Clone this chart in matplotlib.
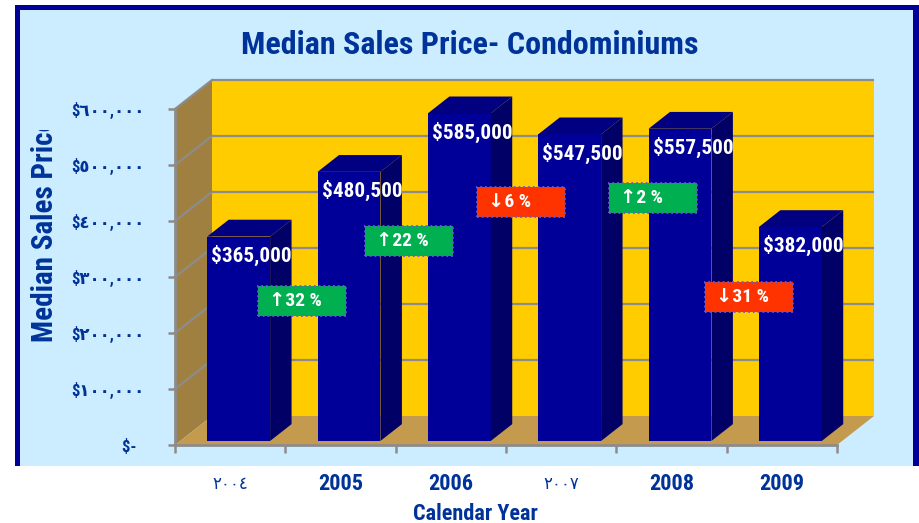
import numpy as np
import matplotlib
matplotlib.use("Agg")
import matplotlib.pyplot as plt
from matplotlib.patches import Rectangle, Polygon
from matplotlib import font_manager as fm
from matplotlib.transforms import Bbox, TransformedBbox, ScaledTranslation

# ---------------- data ----------------
years = ['٢٠٠٤', '2005', '2006', '٢٠٠٧', '2008', '2009']
prices = [365000, 480500, 585000, 547500, 557500, 382000]
price_labels = ['$365,000', '$480,500', '$585,000', '$547,500', '$557,500', '$382,000']
changes = [32, 22, -6, 2, -31]
ytick_values = [0, 100000, 200000, 300000, 400000, 500000, 600000]
ytick_labels = ['$-  ', '$١٠٠,٠٠٠', '$٢٠٠,٠٠٠', '$٣٠٠,٠٠٠', '$٤٠٠,٠٠٠',
                '$٥٠٠,٠٠٠', '$٦٠٠,٠٠٠']
title = 'Median Sales Price- Condominiums'
ylabel = 'Median Sales Price'
xlabel = 'Calendar Year'

# ---------------- fonts ----------------
ttf = fm.fontManager.ttflist


def wnum(w):
    if isinstance(w, (int, float)):
        return w
    return {'bold': 700, 'heavy': 800, 'black': 900, 'semibold': 600,
            'demibold': 600, 'extra bold': 800, 'ultrabold': 800}.get(str(w).lower(), 400)


bold_names = {f.name for f in ttf if wnum(f.weight) >= 600}
STRETCH = 'normal'
SC = 1.0
NARROW = None
for pref in ['Liberation Sans Narrow', 'Arial Narrow', 'Roboto Condensed',
             'Open Sans Condensed', 'Noto Sans Condensed', 'Nimbus Sans Narrow']:
    if pref in bold_names:
        NARROW = pref
        break
if NARROW is None:
    cands = sorted(n for n in bold_names if ('Narrow' in n or 'Condensed' in n))
    if cands:
        NARROW = cands[0]
if NARROW is None:
    if any(f.name == 'DejaVu Sans' and 'condensed' in str(f.stretch) and wnum(f.weight) >= 600
           for f in ttf):
        NARROW = 'DejaVu Sans'
        STRETCH = 'condensed'
        SC = 0.9
    else:
        NARROW = 'Liberation Sans'
        SC = 0.86
FAM = [NARROW, 'DejaVu Sans']
NAVY_TXT = '#003399'
W, H = 920, 523


def fx(x):
    return x / W


def fy(y):
    return 1 - y / H


def fs(s):
    return s * SC


fig = plt.figure(figsize=(W / 100, H / 100), dpi=100)
fig.patch.set_facecolor('white')

# frame
fig.patches.append(Rectangle((fx(15), fy(466)), fx(920) - fx(15), fy(5) - fy(466),
                             transform=fig.transFigure, facecolor='#000099',
                             edgecolor='none', zorder=-20))
fig.patches.append(Rectangle((fx(20), fy(466)), fx(913) - fx(20), fy(10) - fy(466),
                             transform=fig.transFigure, facecolor='#CCECFF',
                             edgecolor='none', zorder=-19))

# axes = front plane
L, R, B, T = 175, 837, 445, 109
ax = fig.add_axes([fx(L), fy(B), fx(R) - fx(L), fy(T) - fy(B)])
ax.set_zorder(1)
ax.set_xlim(-0.5, 5.5)
ax.set_ylim(0, 600000)
ax.patch.set_visible(False)

# depth offsets in data units (wall depth)
px_per_cat = (R - L) / 6.0
px_per_val = (B - T) / 600000.0
dx = 37 / px_per_cat
dy = 29 / px_per_val

x0, x1 = -0.5, 5.5
ymax = 600000
wall_kw = dict(clip_on=False, edgecolor='none')
ax.add_patch(Polygon([(x0, 0), (x0 + dx, dy), (x0 + dx, ymax + dy), (x0, ymax)],
                     facecolor='#A08040', zorder=0.5, **wall_kw))
ax.add_patch(Polygon([(x0 + dx, dy), (x1 + dx, dy), (x1 + dx, ymax + dy), (x0 + dx, ymax + dy)],
                     facecolor='#FFCC00', zorder=0.5, **wall_kw))
ax.add_patch(Polygon([(x0, 0), (x1, 0), (x1 + dx, dy), (x0 + dx, dy)],
                     facecolor='#C49A4E', zorder=0.6, **wall_kw))

for v in ytick_values[1:]:
    ax.plot([x0 + dx, x1 + dx], [v + dy, v + dy], color='#8C8C8C', lw=1.6,
            clip_on=False, zorder=0.8, solid_capstyle='butt')
    ax.plot([x0, x0 + dx], [v, v + dy], color='#8C8C8C', lw=1.6,
            clip_on=False, zorder=0.8)

# bars
f1, f2 = 0.14, 0.72
bw = 0.57
xs = np.arange(len(prices))
base = f1 * dy
xoff = f1 * dx + 0.03
ax.bar(xs + xoff, prices, width=bw, bottom=base, color='#000099', zorder=2,
       edgecolor='none')
ddx = (f2 - f1) * dx
ddy = (f2 - f1) * dy
for i, v in enumerate(prices):
    xl = xs[i] + xoff - bw / 2
    xr = xs[i] + xoff + bw / 2
    top = base + v
    ax.add_patch(Polygon([(xr, base), (xr + ddx, base + ddy), (xr + ddx, top + ddy), (xr, top)],
                         facecolor='#000066', edgecolor='none', zorder=2, clip_on=False))
    ax.add_patch(Polygon([(xl, top), (xr, top), (xr + ddx, top + ddy), (xl + ddx, top + ddy)],
                         facecolor='#000080', edgecolor='none', zorder=2, clip_on=False))
    ax.annotate(price_labels[i], xy=(xl, top), xytext=(3, -13.5), textcoords='offset points',
                ha='left', va='center', color='white', fontsize=fs(15.3), fontweight='bold',
                family=FAM, fontstretch=STRETCH, zorder=4, annotation_clip=False)

# change badges
badge_pos = [(0.651, 257000), (1.621, 364000), (2.636, 434000), (3.832, 441000), (4.703, 264000)]
bwid = 88 / px_per_cat
bht = 30 / px_per_val
for (cx, cy), c in zip(badge_pos, changes):
    col = '#00B050' if c > 0 else '#FF3300'
    arrow = '↑' if c > 0 else '↓'
    ax.add_patch(Rectangle((cx - bwid / 2, cy - bht / 2), bwid, bht, facecolor=col,
                           edgecolor='#6A5ACD', linestyle=':', lw=1.3, zorder=5,
                           clip_on=False))
    ax.text(cx - bwid / 2 + 11 / px_per_cat, cy, f'{arrow}{abs(c)} %', ha='left',
            va='center', color='white', fontsize=fs(14), fontweight='bold', family=FAM,
            fontstretch=STRETCH, zorder=6, clip_on=False)

# spines / ticks
for s in ('top', 'right'):
    ax.spines[s].set_visible(False)
for s in ('left', 'bottom'):
    ax.spines[s].set_color('#8C8C8C')
    ax.spines[s].set_linewidth(2)
    ax.spines[s].set_zorder(3)

ax.set_yticks(ytick_values, ytick_labels)
ax.tick_params(axis='y', direction='out', length=5, width=1.8, color='#8C8C8C',
               pad=17, labelcolor=NAVY_TXT, labelsize=12)
for t in ax.get_yticklabels():
    t.set_fontfamily(FAM)
    t.set_fontweight('bold')
    t.set_fontstretch(STRETCH)

ax.set_xticks(np.arange(-0.5, 6.0, 1.0), [''] * 7)
ax.tick_params(axis='x', which='major', direction='out', length=6, width=1.8,
               color='#8C8C8C')
ax.set_xticks(xs, years, minor=True)
ax.tick_params(axis='x', which='minor', length=0, pad=20, labelcolor=NAVY_TXT)
for t in ax.get_xticklabels(minor=True):
    t.set_fontfamily(FAM)
    t.set_fontstretch(STRETCH)
    if t.get_text().isascii():
        t.set_fontsize(fs(16))
        t.set_fontweight('bold')
    else:
        t.set_fontsize(12)
        t.set_transform(t.get_transform() + ScaledTranslation(0, -3 / 72, fig.dpi_scale_trans))

# texts
fig.text(fx(470), fy(45), title, ha='center', va='center', fontsize=fs(23),
         fontweight='bold', color=NAVY_TXT, family=FAM, fontstretch=STRETCH)
yl = fig.text(fx(45), fy(342), ylabel, rotation=90, ha='center', va='bottom',
              fontsize=fs(21), fontweight='bold', color=NAVY_TXT, family=FAM,
              fontstretch=STRETCH)
yl.set_clip_box(TransformedBbox(Bbox.from_extents(0, 0, 1, fy(130)), fig.transFigure))
yl.set_clip_on(True)
fig.text(fx(475), fy(514), xlabel, ha='center', va='center', fontsize=fs(16),
         fontweight='bold', color=NAVY_TXT, family=FAM, fontstretch=STRETCH)

fig.savefig('out.png', dpi=100, facecolor='white')
